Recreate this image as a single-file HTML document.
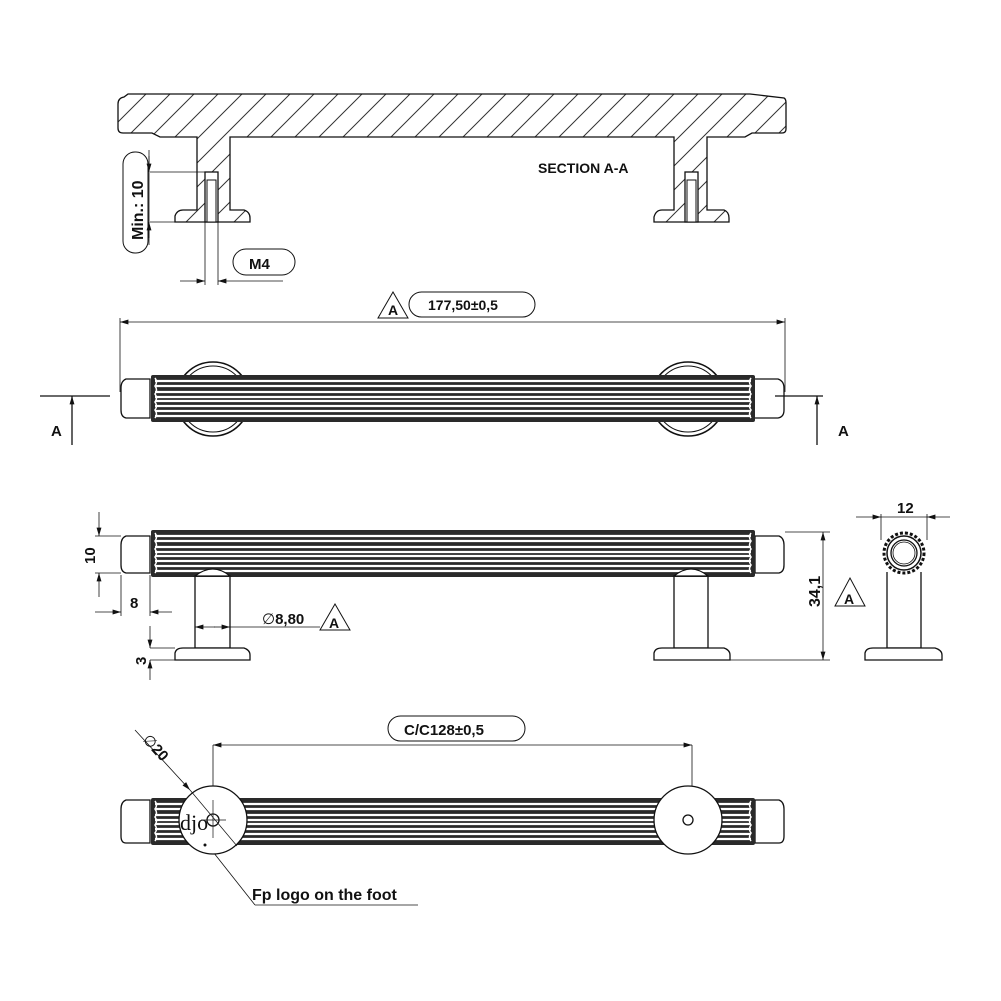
<!DOCTYPE html>
<html><head><meta charset="utf-8"><style>
html,body{margin:0;padding:0;background:#fff}
svg{display:block}
text{font-family:"Liberation Sans",sans-serif;font-weight:bold;fill:#111}
</style></head><body>
<svg width="1001" height="1001" viewBox="0 0 1001 1001" xmlns="http://www.w3.org/2000/svg">
<defs>
<pattern id="hatch" patternUnits="userSpaceOnUse" width="24" height="24">
<path d="M0,24 L24,0 M-6,6 L6,-6 M18,30 L30,18" stroke="#333" stroke-width="1"/>
</pattern>
<marker id="ar" viewBox="0 0 12 10" refX="12" refY="5" markerWidth="12" markerHeight="7" orient="auto-start-reverse" markerUnits="userSpaceOnUse">
<path d="M0,1.5 L12,5 L0,8.5 z" fill="#111"/>
</marker>
<g id="bar">
<rect x="0" y="0" width="604" height="47" rx="2" fill="#2a2a2a"/>
<g stroke="#fff" stroke-width="2.2">
<line x1="4" y1="6" x2="600" y2="6"/><line x1="4" y1="11" x2="600" y2="11"/>
<line x1="4" y1="17" x2="600" y2="17"/><line x1="4" y1="22" x2="600" y2="22"/>
<line x1="4" y1="26" x2="600" y2="26"/><line x1="4" y1="31" x2="600" y2="31"/>
<line x1="4" y1="36" x2="600" y2="36"/><line x1="4" y1="41" x2="600" y2="41"/>
</g>
<g stroke="#fff" stroke-width="1.5" fill="none">
<path d="M4,3 q3,4 0,8 q3,4 0,8 q3,4 0,8 q3,4 0,8 q3,4 0,8"/>
<path d="M600,3 q-3,4 0,8 q-3,4 0,8 q-3,4 0,8 q-3,4 0,8 q-3,4 0,8"/>
</g>
</g>
</defs>
<g fill="none" stroke="#111" stroke-width="1.3">
<path d="M128,94 L750,94 L784,98 Q786,99 786,103 L786,129 Q786,133 782,133 L752,133 L745,137 L707,137 L707,210 L724,210 Q729,212 729,218 L729,222 L654,222 L654,217 Q656,210 662,210 L674,210 L674,137 L230,137 L230,210 L244,210 Q250,212 250,218 L250,222 L175,222 L175,216 Q177,210 183,210 L197,210 L197,137 L160,137 L152,133 L123,133 Q118,133 118,128 L118,104 Q118,98 124,97 Z" fill="url(#hatch)"/>
<rect x="205" y="172" width="13" height="50" fill="#fff"/>
<rect x="207" y="180" width="9" height="42" fill="#fff" stroke-width="1"/>
<rect x="685" y="172" width="13" height="50" fill="#fff"/>
<rect x="687" y="180" width="9" height="42" fill="#fff" stroke-width="1"/>
<g stroke-width="0.8">
<line x1="150" y1="172" x2="205" y2="172"/><line x1="150" y1="222" x2="175" y2="222"/>
<line x1="149" y1="150" x2="149" y2="245"/>
<line x1="205" y1="222" x2="205" y2="285"/><line x1="218" y1="222" x2="218" y2="285"/>
<line x1="180" y1="281" x2="205" y2="281" marker-end="url(#ar)"/>
<line x1="283" y1="281" x2="218" y2="281" marker-end="url(#ar)"/>
<line x1="149" y1="156" x2="149" y2="172" marker-end="url(#ar)"/>
<line x1="149" y1="238" x2="149" y2="222" marker-end="url(#ar)"/>
</g>
<rect x="123" y="152" width="25" height="101" rx="12" stroke-width="1"/>
<rect x="233" y="249" width="62" height="26" rx="13" stroke-width="1"/>

<g stroke-width="0.8">
<line x1="120" y1="318" x2="120" y2="392"/><line x1="785" y1="318" x2="785" y2="392"/>
<line x1="120" y1="322" x2="785" y2="322" marker-start="url(#ar)" marker-end="url(#ar)"/>
</g>
<path d="M378,318 L393,292 L408,318 Z" stroke-width="1"/>
<rect x="409" y="292" width="126" height="25" rx="12.5" stroke-width="1"/>
<circle cx="213" cy="399" r="37" stroke-width="1.6"/><circle cx="213" cy="399" r="33" stroke-width="1"/>
<circle cx="688" cy="399" r="37" stroke-width="1.6"/><circle cx="688" cy="399" r="33" stroke-width="1"/>
<path d="M150,379 L126,379 Q121,381 121,388 L121,410 Q121,417 126,418 L150,418 Z" fill="#fff"/>
<path d="M753,379 L778,379 Q784,381 784,388 L784,410 Q784,417 778,418 L753,418 Z" fill="#fff"/>
<line x1="40" y1="396" x2="110" y2="396"/>
<line x1="72" y1="445" x2="72" y2="396" marker-end="url(#ar)"/>
<line x1="775" y1="396" x2="823" y2="396"/>
<line x1="817" y1="445" x2="817" y2="396" marker-end="url(#ar)"/>

<path d="M195,575 L195,648 L230,648 L230,575" fill="#fff"/>
<path d="M175,660 L175,653 Q176,648 183,648 L244,648 Q250,650 250,655 L250,660 Z" fill="#fff"/>
<path d="M674,575 L674,648 L708,648 L708,575" fill="#fff"/>
<path d="M654,660 L654,653 Q655,648 662,648 L724,648 Q730,650 730,655 L730,660 Z" fill="#fff"/>
<path d="M150,536 L126,536 Q121,538 121,545 L121,565 Q121,572 126,573 L150,573 Z" fill="#fff"/>
<path d="M755,536 L779,536 Q784,538 784,545 L784,565 Q784,572 779,573 L755,573 Z" fill="#fff"/>
<g stroke-width="0.8">
<line x1="95" y1="536" x2="121" y2="536"/><line x1="95" y1="573" x2="121" y2="573"/>
<line x1="99" y1="512" x2="99" y2="536" marker-end="url(#ar)"/>
<line x1="99" y1="597" x2="99" y2="573" marker-end="url(#ar)"/>
<line x1="121" y1="575" x2="121" y2="616"/><line x1="150" y1="575" x2="150" y2="616"/>
<line x1="95" y1="612" x2="121" y2="612" marker-end="url(#ar)"/>
<line x1="172" y1="612" x2="150" y2="612" marker-end="url(#ar)"/>
<line x1="195" y1="627" x2="215" y2="627" marker-start="url(#ar)"/>
<line x1="214" y1="627" x2="230" y2="627" marker-end="url(#ar)"/>
<line x1="230" y1="627" x2="320" y2="627"/>
<line x1="150" y1="648" x2="175" y2="648"/><line x1="150" y1="660" x2="175" y2="660"/>
<line x1="150" y1="626" x2="150" y2="648" marker-end="url(#ar)"/>
<line x1="150" y1="680" x2="150" y2="660" marker-end="url(#ar)"/>
<line x1="785" y1="532" x2="830" y2="532"/><line x1="730" y1="660" x2="830" y2="660"/>
<line x1="823" y1="532" x2="823" y2="660" marker-start="url(#ar)" marker-end="url(#ar)"/>
</g>
<path d="M320,630 L335,604 L350,630 Z" stroke-width="1"/>
<path d="M835,606 L850,578 L865,606 Z" stroke-width="1"/>

<path d="M887,572 L887,648 L921,648 L921,572" fill="#fff"/>
<path d="M865,660 L865,653 Q866,648 873,648 L935,648 Q942,650 942,655 L942,660 Z" fill="#fff"/>
<circle cx="904" cy="553" r="20" stroke-width="3" stroke-dasharray="3,2" fill="#fff"/>
<circle cx="904" cy="553" r="17" stroke-width="1.5"/>
<circle cx="904" cy="553" r="13" stroke-width="1.3"/>
<circle cx="904" cy="553" r="11" stroke-width="0.8"/>
<g stroke-width="0.8">
<line x1="881" y1="514" x2="881" y2="540"/><line x1="927" y1="514" x2="927" y2="540"/>
<line x1="856" y1="517" x2="881" y2="517" marker-end="url(#ar)"/>
<line x1="950" y1="517" x2="927" y2="517" marker-end="url(#ar)"/>
<line x1="881" y1="517" x2="927" y2="517"/>
</g>

<path d="M150,800 L126,800 Q121,802 121,809 L121,836 Q121,843 126,843 L150,843 Z" fill="#fff"/>
<path d="M755,800 L779,800 Q784,802 784,809 L784,836 Q784,843 779,843 L755,843 Z" fill="#fff"/>
<g stroke-width="0.8">
<line x1="213" y1="745" x2="213" y2="800"/><line x1="692" y1="745" x2="692" y2="800"/>
<line x1="213" y1="745" x2="692" y2="745" marker-start="url(#ar)" marker-end="url(#ar)"/>
<line x1="135" y1="730" x2="190" y2="790" marker-end="url(#ar)"/>
<line x1="206" y1="843" x2="255" y2="905"/>
<line x1="255" y1="905" x2="418" y2="905"/>
</g>
<rect x="388" y="716" width="137" height="25" rx="12.5" stroke-width="1"/>
</g>
<use href="#bar" x="151" y="375"/>
<use href="#bar" x="151" y="530"/>
<use href="#bar" x="151" y="798"/>
<g fill="#fff" stroke="#111" stroke-width="1.3">
<path d="M195,576 Q213,562 230,576 Z"/>
<path d="M674,576 Q691,562 708,576 Z"/>
<circle cx="213" cy="820" r="34"/>
<circle cx="688" cy="820" r="34"/>
<circle cx="213" cy="820" r="6"/>
<circle cx="688" cy="820" r="5"/>
</g>
<g stroke="#111" stroke-width="0.7">
<line x1="213" y1="800" x2="213" y2="838"/><line x1="201" y1="820" x2="226" y2="820"/>
<line x1="190" y1="790" x2="237" y2="846"/>
</g>
<circle cx="205" cy="845" r="1.5" fill="#111"/>
<text x="180" y="830" font-size="22" style="font-family:'Liberation Serif',serif;font-weight:normal">djo</text>

<text x="538" y="173" font-size="14">SECTION A-A</text>
<text transform="translate(143,240) rotate(-90)" font-size="16">Min.: 10</text>
<text x="249" y="269" font-size="15">M4</text>
<text x="388" y="315" font-size="14">A</text>
<text x="428" y="310" font-size="14">177,50±0,5</text>
<text x="51" y="436" font-size="15">A</text>
<text x="838" y="436" font-size="15">A</text>
<text transform="translate(95,564) rotate(-90)" font-size="15">10</text>
<text x="130" y="608" font-size="15">8</text>
<text x="262" y="624" font-size="15"><tspan font-weight="normal">∅</tspan>8,80</text>
<text x="329" y="628" font-size="14">A</text>
<text transform="translate(146,665) rotate(-90)" font-size="15">3</text>
<text transform="translate(820,607) rotate(-90)" font-size="16">34,1</text>
<text x="844" y="604" font-size="14">A</text>
<text x="897" y="513" font-size="15">12</text>
<text x="404" y="735" font-size="15">C/C128±0,5</text>
<text transform="translate(142,740) rotate(48)" font-size="15"><tspan font-weight="normal">∅</tspan>20</text>
<text x="252" y="900" font-size="16">Fp logo on the foot</text>
</svg>
</body></html>
